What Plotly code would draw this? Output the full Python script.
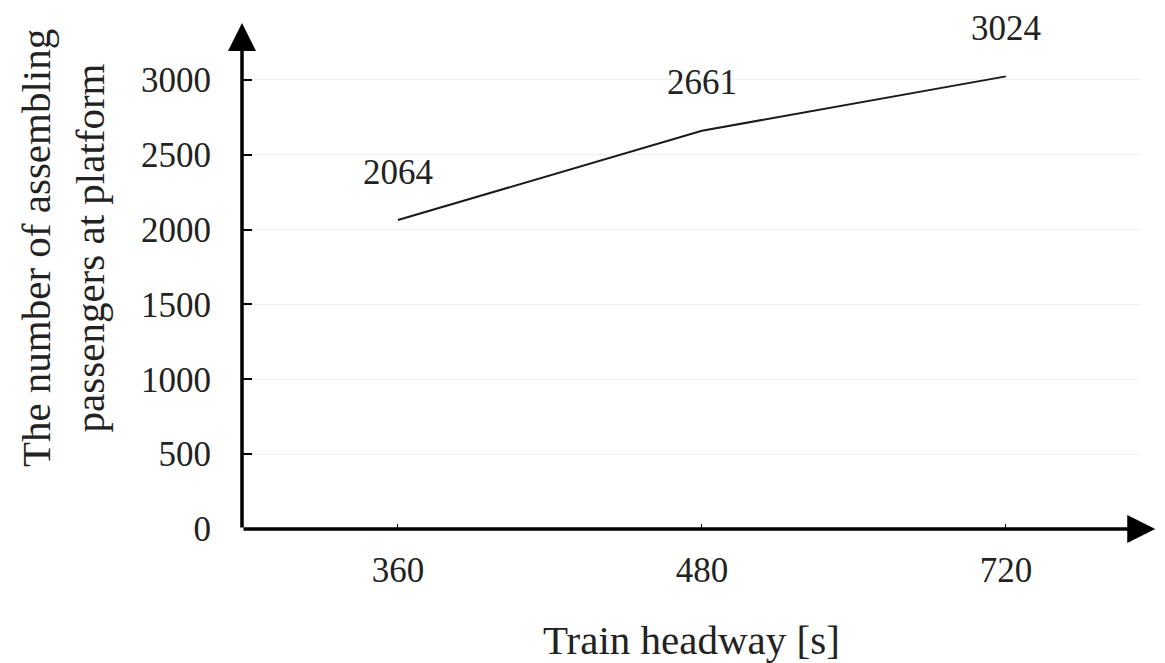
import plotly.graph_objects as go

categories = ["360", "480", "720"]
values = [2064, 2661, 3024]
y_ticks = [0, 500, 1000, 1500, 2000, 2500, 3000]
x_title = "Train headway [s]"
y_title = "The number of assembling<br>passengers at platform"

FONT = "Liberation Serif, Times New Roman, serif"
TXT = "#222"

fig = go.Figure()
fig.add_trace(go.Scatter(
    x=categories, y=values, mode="lines",
    line=dict(color="#1a1a1a", width=2), hoverinfo="skip", showlegend=False,
))

for i, v in enumerate(values):
    fig.add_annotation(x=i, y=v, text=str(v), showarrow=False, yshift=48,
                       font=dict(family=FONT, size=35, color=TXT))

# axis arrows
fig.add_annotation(xref="x domain", yref="y domain", x=0, y=1.035,
                   axref="x domain", ayref="y domain", ax=0, ay=0,
                   text="", showarrow=True,
                   arrowhead=2, arrowsize=1.6, arrowwidth=3.5, arrowcolor="black")
fig.add_annotation(xref="x domain", yref="y domain", x=1.017, y=0,
                   axref="x domain", ayref="y domain", ax=0, ay=0,
                   text="", showarrow=True,
                   arrowhead=2, arrowsize=1.6, arrowwidth=3.5, arrowcolor="black")

# axis titles
fig.add_annotation(xref="paper", yref="paper", x=-0.199, y=0.575, text=y_title,
                   showarrow=False, textangle=-90, xanchor="center", yanchor="middle",
                   font=dict(family=FONT, size=41, color=TXT))
fig.add_annotation(xref="paper", yref="paper", x=0.501, y=-0.228, text=x_title,
                   showarrow=False, xanchor="center", yanchor="middle",
                   font=dict(family=FONT, size=41, color=TXT))

fig.update_layout(
    width=1157, height=655,
    margin=dict(l=234, r=25, t=32, b=134),
    paper_bgcolor="white", plot_bgcolor="white",
    font=dict(family=FONT, size=35, color=TXT),
    xaxis=dict(
        type="category", range=[-0.513, 2.441], automargin=False,
        showgrid=False, zeroline=False, showline=False,
        ticks="inside", ticklen=5, tickwidth=1, tickcolor="black",
        ticklabelstandoff=17,
        tickfont=dict(family=FONT, size=35, color=TXT),
    ),
    yaxis=dict(
        range=[0, 3267], tickvals=y_ticks, automargin=False,
        showgrid=True, gridcolor="#f0f0f0", gridwidth=1,
        zeroline=False, showline=False,
        ticks="inside", ticklen=10, tickwidth=2, tickcolor="black",
        ticklabelstandoff=30,
        tickfont=dict(family=FONT, size=35, color=TXT),
    ),
)

fig.write_html("out.html")
